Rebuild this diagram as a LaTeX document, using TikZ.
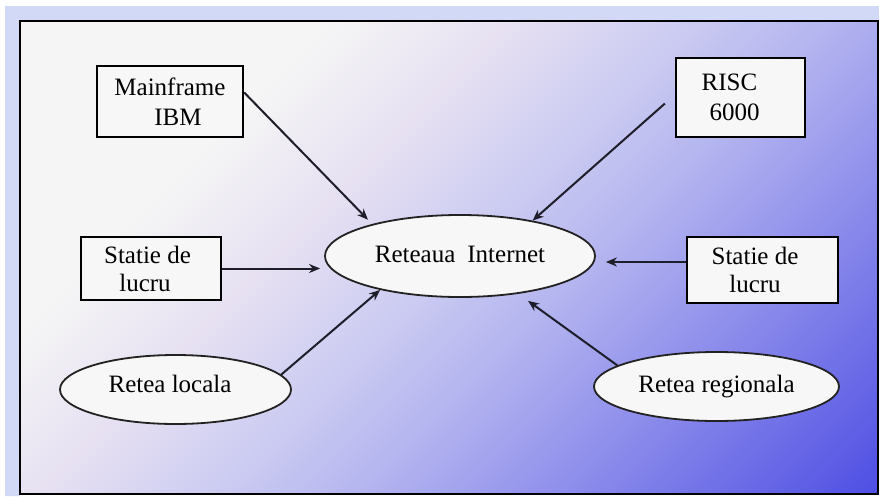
\documentclass[tikz,border=0pt]{standalone}
\usepackage{fontspec}
\setmainfont{Liberation Serif}
\usetikzlibrary{shapes.geometric,arrows.meta}

\definecolor{edgestrip}{HTML}{D2D9F6}
\definecolor{bgA}{HTML}{F5F5F5}
\definecolor{bgB}{HTML}{E6E0F2}
\definecolor{bgC}{HTML}{CCCCF2}
\definecolor{bgD}{HTML}{B4B4F0}
\definecolor{bgE}{HTML}{9090EC}
\definecolor{bgF}{HTML}{7272E8}
\definecolor{bgG}{HTML}{5050E4}
\definecolor{boxfill}{HTML}{F7F7F7}
\definecolor{ovalline}{HTML}{222222}
\definecolor{linkcol}{HTML}{1E1E2A}

\pgfdeclarehorizontalshading{slideshade}{100bp}{color(0bp)=(bgA); color(31bp)=(bgA); color(41bp)=(bgB); color(50bp)=(bgC); color(58bp)=(bgD); color(68bp)=(bgE); color(76bp)=(bgF); color(85bp)=(bgG); color(100bp)=(bgG)}

\tikzset{
  box/.style={draw=black, line width=2.2pt, fill=boxfill, inner sep=0pt, align=center, font=\fontsize{25}{30}\selectfont},
  oval/.style={ellipse, draw=ovalline, line width=1.8pt, fill=boxfill, inner sep=0pt, font=\fontsize{25}{30}\selectfont},
  link/.style={-{Stealth[length=11pt,width=9pt]}, line width=2pt, draw=linkcol}
}

\begin{document}
\begin{tikzpicture}[x=1pt, y=-1pt]
\useasboundingbox (0,0) rectangle (879,496);
% outer strips and slide frame
\fill[edgestrip] (5,6) rectangle (879,21) (5,6) rectangle (20,496);
\shade[shading=slideshade, shading angle=-45] (20,21) rectangle (878,494);
\draw[black, line width=2.2pt] (20,21) rectangle (878,494);

% central network
\node[oval, minimum width=270pt, minimum height=82pt, text depth=4pt] (net) at (460,256) {Reteaua\hspace{12pt}Internet};

% hosts
\node[box, minimum width=146pt, minimum height=71pt] (mainframe) at (170,101.5) {Mainframe\\\hbox to16pt{}IBM};
\node[box, minimum width=129pt, minimum height=79pt] (risc) at (740.5,97.5) {RISC\hbox to22pt{}\\6000\hbox to12pt{}};
\node[box, minimum width=140pt, minimum height=63pt, font=\fontsize{25}{28}\selectfont] (statL) at (151,268.5) {Statie de\hbox to7pt{}\\lucru\hbox to12pt{}};
\node[box, minimum width=151pt, minimum height=66pt, font=\fontsize{25}{28}\selectfont] (statR) at (762.5,270) {Statie de\hbox to15pt{}\\lucru\hbox to15pt{}};

% networks
\node[oval, minimum width=231pt, minimum height=69pt, text depth=12pt] (local) at (175.5,389.5) {Retea locala\hbox to11pt{}};
\node[oval, minimum width=245pt, minimum height=69pt] (regional) at (716.5,386.5) {Retea regionala};

% links
\coordinate (rin) at ([yshift=8pt]statR.west);
\draw[link, shorten >=6pt] (mainframe.7) -- (net.160);
\draw[link] ([shift={(-10pt,-6pt)}]risc.west) -- (net.26);
\draw[link, shorten >=4pt] (statL.east) -- (statL.east -| net.west);
\draw[link, shorten >=10pt] (rin) -- (rin -| net.east);
\draw[link] (local.8) -- (net.203);
\draw[link, shorten >=12pt] (regional.168) -- (net.327);
\end{tikzpicture}
\end{document}
